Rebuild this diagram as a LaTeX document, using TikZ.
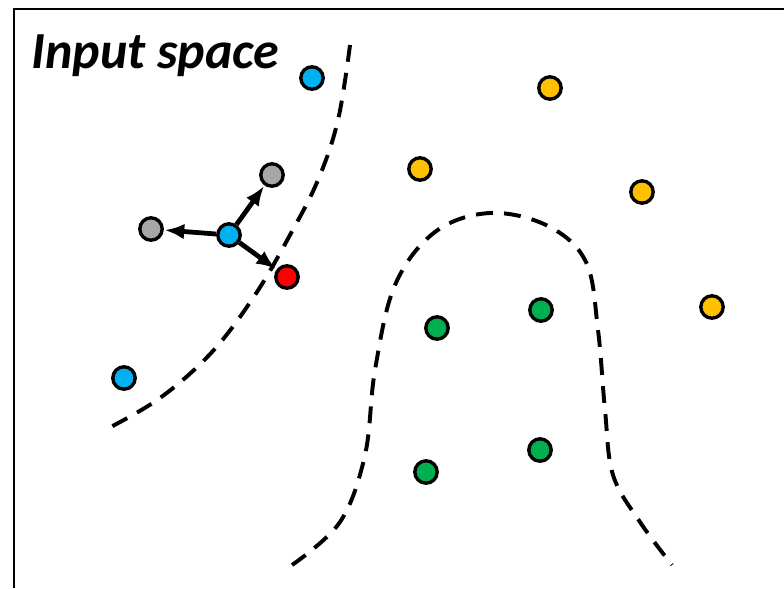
\documentclass[tikz,border=0pt]{standalone}
\usepackage{fontspec}
\setsansfont{Carlito}
\usetikzlibrary{arrows.meta}

\definecolor{ptblue}{HTML}{00B0F0}
\definecolor{ptyellow}{HTML}{FFC000}
\definecolor{ptgreen}{HTML}{00B050}
\definecolor{ptred}{HTML}{FF0000}
\definecolor{ptgray}{HTML}{A6A6A6}

\begin{document}
\begin{tikzpicture}[x=0.025cm, y=-0.025cm,
  dot/.style={circle, draw=black, line width=2.4pt, minimum size=0.56cm, inner sep=0pt},
  boundary/.style={line width=2.8pt, dash pattern=on 12pt off 8pt},
  push/.style={line width=3.4pt, -{Latex[length=14pt, width=11pt]}, shorten >=0.5pt}]
  \useasboundingbox (0,0) rectangle (784,588);

  % frame (only left and top edges are visible)
  \draw[line width=1.6pt] (14,588) -- (14,9) -- (784,9);
  \node[font=\sffamily\bfseries\itshape\fontsize{37}{40}\selectfont, anchor=base west, inner sep=0pt]
    (title) at (31,68) {Input space};

  % decision boundaries
  \draw[boundary] plot[smooth, tension=0.6] coordinates
    {(350,45) (338,120) (318,180) (290,235) (255,295) (212,352) (160,398) (105,430)};
  \draw[boundary] plot[smooth, tension=0.6] coordinates
    {(292,565) (340,522) (365,455) (375,370) (395,285) (435,232) (490,213) (548,226)
     (586,262) (598,330) (605,410) (613,475) (640,522) (672,565)};

  % class 1
  \node[dot, fill=ptblue] (b1) at (312,78) {};
  \node[dot, fill=ptblue] (b2) at (229,235) {};
  \node[dot, fill=ptblue] (b3) at (124,378) {};
  % class 2
  \node[dot, fill=ptyellow] (y1) at (550,88) {};
  \node[dot, fill=ptyellow] (y2) at (420,169) {};
  \node[dot, fill=ptyellow] (y3) at (642,192) {};
  \node[dot, fill=ptyellow] (y4) at (712,307) {};
  % class 3
  \node[dot, fill=ptgreen] (g1) at (541,310) {};
  \node[dot, fill=ptgreen] (g2) at (437,328) {};
  \node[dot, fill=ptgreen] (g3) at (540,450) {};
  \node[dot, fill=ptgreen] (g4) at (426,472) {};

  % perturbed copies of b2
  \node[dot, fill=ptgray] (p1) at (151,229) {};
  \node[dot, fill=ptgray] (p2) at (272,175) {};
  \node[dot, fill=ptred]  (adv) at (287,277) {};
  \draw[push] (b2) -- (p1);
  \draw[push] (b2) -- (p2);
  \draw[push] (b2) -- (adv);
\end{tikzpicture}
\end{document}
